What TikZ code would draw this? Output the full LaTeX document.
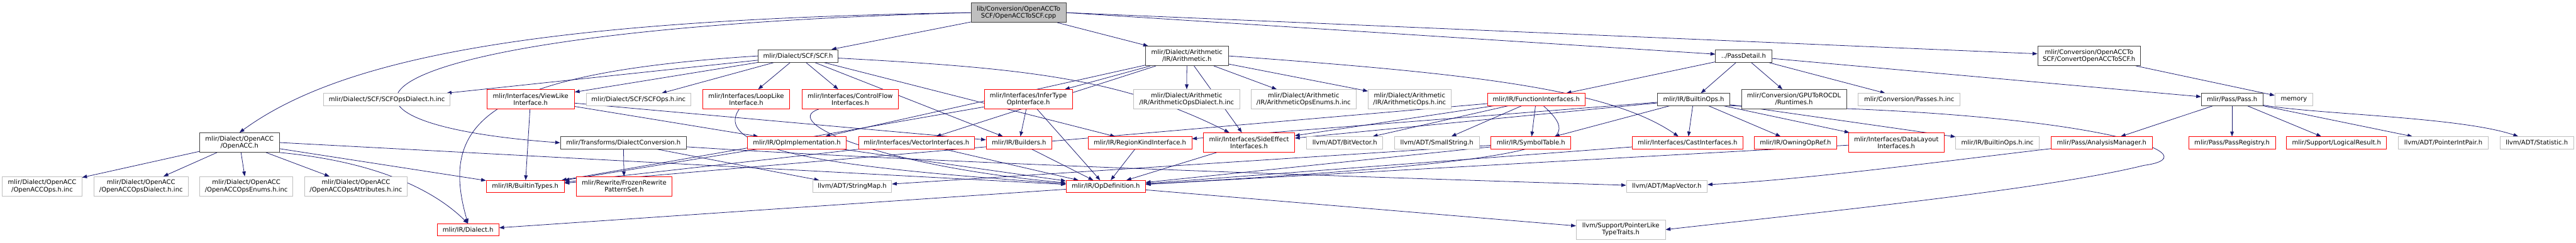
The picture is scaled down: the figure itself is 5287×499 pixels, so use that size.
\documentclass[tikz,border=0pt]{standalone}
\usepackage{fontspec}
\setmainfont{DejaVu Sans}
\usetikzlibrary{arrows.meta}
\pgfdeclarelayer{edgelayer}
\pgfsetlayers{edgelayer,main}
\definecolor{mblue}{HTML}{191970}
\definecolor{gborder}{HTML}{BFBFBF}
\definecolor{dborder}{HTML}{404040}
\definecolor{rborder}{HTML}{FF0000}
\definecolor{rootfill}{HTML}{BFBFBF}
\newcommand\dxfont{\fontsize{9.7}{10.7}\selectfont}
\tikzset{
  basebox/.style={draw, line width=0.75pt, inner sep=0pt, align=center, font=\dxfont, fill=white},
  gbox/.style={basebox, draw=gborder},
  rbox/.style={basebox, draw=rborder},
  dbox/.style={basebox, draw=dborder},
  rootbox/.style={basebox, draw=dborder, fill=rootfill},
  sz/.style 2 args={minimum width=#1*0.75pt, minimum height=#2*0.75pt},
  dep/.style={draw=mblue, line width=0.75pt, -{Triangle[length=7.5pt,width=5.5pt]}},
}
\begin{document}
\begin{tikzpicture}[x=0.75pt, y=-0.75pt]
\useasboundingbox (0,0) rectangle (5287,499);
% nodes
\node[rootbox, sz={195}{40}] (R) at (2090.5,26) {lib/Conversion/OpenACCTo\\SCF/OpenACCToSCF.cpp};
\node[dbox, sz={163}{40}] (OA) at (491.5,293) {mlir/Dialect/OpenACC\\/OpenACC.h};
\node[gbox, sz={163}{40}] (OpsInc) at (86.5,383) {mlir/Dialect/OpenACC\\/OpenACCOps.h.inc};
\node[gbox, sz={193}{40}] (OpsDialectInc) at (289.5,383) {mlir/Dialect/OpenACC\\/OpenACCOpsDialect.h.inc};
\node[gbox, sz={191}{40}] (OpsEnumsInc) at (505.5,383) {mlir/Dialect/OpenACC\\/OpenACCOpsEnums.h.inc};
\node[gbox, sz={211}{40}] (OpsAttrInc) at (730.5,383) {mlir/Dialect/OpenACC\\/OpenACCOpsAttributes.h.inc};
\node[gbox, sz={260}{25}] (SCFDialectInc) at (794,204.5) {mlir/Dialect/SCF/SCFOpsDialect.h.inc};
\node[rbox, sz={180}{40}] (ViewLike) at (1089,204) {mlir/Interfaces/ViewLike\\Interface.h};
\node[gbox, sz={215}{25}] (SCFOpsInc) at (1310.5,204.5) {mlir/Dialect/SCF/SCFOps.h.inc};
\node[dbox, sz={259}{25}] (DC) at (1279.5,293.5) {mlir/Transforms/DialectConversion.h};
\node[rbox, sz={160}{25}] (BTypes) at (1078,383.5) {mlir/IR/BuiltinTypes.h};
\node[rbox, sz={196}{40}] (Frozen) at (1281,383) {mlir/Rewrite/FrozenRewrite\\PatternSet.h};
\node[rbox, sz={127}{25}] (Dialect) at (960.5,472.5) {mlir/IR/Dialect.h};
\node[dbox, sz={164}{26}] (SCF) at (1638,115) {mlir/Dialect/SCF/SCF.h};
\node[rbox, sz={179}{40}] (LoopLike) at (1531.5,204) {mlir/Interfaces/LoopLike\\Interface.h};
\node[rbox, sz={198}{40}] (CFlow) at (1745,204) {mlir/Interfaces/ControlFlow\\Interfaces.h};
\node[rbox, sz={203}{25}] (OpImpl) at (1635.5,293.5) {mlir/IR/OpImplementation.h};
\node[gbox, sz={162}{25}] (StringMap) at (1749,383.5) {llvm/ADT/StringMap.h};
\node[rbox, sz={181}{40}] (InferType) at (2110.5,204) {mlir/Interfaces/InferType\\OpInterface.h};
\node[rbox, sz={238}{25}] (Vector) at (1881,293.5) {mlir/Interfaces/VectorInterfaces.h};
\node[rbox, sz={135}{25}] (Builders) at (2091.5,293.5) {mlir/IR/Builders.h};
\node[rbox, sz={163}{25}] (OpDef) at (2269.5,383.5) {mlir/IR/OpDefinition.h};
\node[dbox, sz={170}{40}] (AR) at (2436,115) {mlir/Dialect/Arithmetic\\/IR/Arithmetic.h};
\node[gbox, sz={217}{40}] (ArDialectInc) at (2435.5,204) {mlir/Dialect/Arithmetic\\/IR/ArithmeticOpsDialect.h.inc};
\node[gbox, sz={215}{40}] (ArEnumsInc) at (2675.5,204) {mlir/Dialect/Arithmetic\\/IR/ArithmeticOpsEnums.h.inc};
\node[rbox, sz={213}{25}] (RegionKind) at (2339.5,293.5) {mlir/IR/RegionKindInterface.h};
\node[rbox, sz={187}{40}] (SideEffect) at (2563.5,293) {mlir/Interfaces/SideEffect\\Interfaces.h};
\node[gbox, sz={170}{40}] (ArOpsInc) at (2893,204) {mlir/Dialect/Arithmetic\\/IR/ArithmeticOps.h.inc};
\node[gbox, sz={156}{25}] (BitVector) at (2760,293.5) {llvm/ADT/BitVector.h};
\node[gbox, sz={174}{25}] (SmallString) at (2949,293.5) {llvm/ADT/SmallString.h};
\node[rbox, sz={200}{25}] (FuncIf) at (3153,204.5) {mlir/IR/FunctionInterfaces.h};
\node[rbox, sz={164}{25}] (SymTab) at (3142,293.5) {mlir/IR/SymbolTable.h};
\node[dbox, sz={115}{26}] (PD) at (3578.5,115) {../PassDetail.h};
\node[dbox, sz={148}{25}] (BOps) at (3476,204.5) {mlir/IR/BuiltinOps.h};
\node[rbox, sz={227}{25}] (Cast) at (3463.5,293.5) {mlir/Interfaces/CastInterfaces.h};
\node[gbox, sz={166}{25}] (MapVector) at (3421,383.5) {llvm/ADT/MapVector.h};
\node[gbox, sz={183}{40}] (PtrLike) at (3326.5,472) {llvm/Support/PointerLike\\TypeTraits.h};
\node[dbox, sz={216}{40}] (Runtimes) at (3682,204) {mlir/Conversion/GPUToROCDL\\/Runtimes.h};
\node[gbox, sz={209}{25}] (PassesInc) at (3918.5,204.5) {mlir/Conversion/Passes.h.inc};
\node[rbox, sz={168}{25}] (Owning) at (3685,293.5) {mlir/IR/OwningOpRef.h};
\node[rbox, sz={196}{40}] (DataLayout) at (3892,293) {mlir/Interfaces/DataLayout\\Interfaces.h};
\node[dbox, sz={211}{40}] (CV) at (4287.5,115) {mlir/Conversion/OpenACCTo\\SCF/ConvertOpenACCToSCF.h};
\node[gbox, sz={171}{25}] (BOpsInc) at (4099.5,293.5) {mlir/IR/BuiltinOps.h.inc};
\node[rbox, sz={207}{25}] (Analysis) at (4313.5,293.5) {mlir/Pass/AnalysisManager.h};
\node[dbox, sz={126}{25}] (Pass) at (4581,204.5) {mlir/Pass/Pass.h};
\node[gbox, sz={78}{25}] (memory) at (4708,204.5) {memory};
\node[rbox, sz={178}{25}] (PassReg) at (4581,293.5) {mlir/Pass/PassRegistry.h};
\node[rbox, sz={205}{25}] (LogRes) at (4795.5,293.5) {mlir/Support/LogicalResult.h};
\node[gbox, sz={185}{25}] (PtrInt) at (5014.5,293.5) {llvm/ADT/PointerIntPair.h};
\node[gbox, sz={151}{25}] (Statistic) at (5206.5,293.5) {llvm/ADT/Statistic.h};
% edges
\begin{pgfonlayer}{edgelayer}
\draw[dep] (R.west) .. controls (1100,40) and (700,120) .. (OA.north);
\draw[dep] (R) -- (SCF);
\draw[dep] (R) -- (AR);
\draw[dep] (R.east) -- (PD);
\draw[dep] (R.east) -- (CV);
\draw[dep] (R.west) .. controls (700,60) and (560,250) .. (DC.west);
\draw[dep] (OA) -- (OpsInc);
\draw[dep] (OA) -- (OpsDialectInc);
\draw[dep] (OA) -- (OpsEnumsInc);
\draw[dep] (OA) -- (OpsAttrInc);
\draw[dep] (OA) -- (BTypes);
\draw[dep] (OA.south east) .. controls (750,330) and (880,380) .. (Dialect.north);
\draw[dep] (OA.east) -- (OpDef);
\draw[dep] (SCF) -- (SCFDialectInc);
\draw[dep] (SCF) -- (SCFOpsInc);
\draw[dep] (SCF) -- (ViewLike);
\draw[dep] (SCF) -- (LoopLike);
\draw[dep] (SCF) -- (CFlow);
\draw[dep] (SCF) -- (Builders);
\draw[dep] (SCF) -- (RegionKind);
\draw[dep] (SCF) .. controls (2100,140) and (2300,160) .. (SideEffect);
\draw[dep] (SCF.west) .. controls (1000,150) and (900,250) .. (Dialect.north);
\draw[dep] (AR) -- (ArDialectInc);
\draw[dep] (AR) -- (ArEnumsInc);
\draw[dep] (AR) -- (ArOpsInc);
\draw[dep] (AR.east) .. controls (3000,150) and (3300,180) .. (Cast);
\draw[dep] (AR) -- (InferType);
\draw[dep] (AR) -- (Vector);
\draw[dep] (AR) -- (OpImpl);
\draw[dep] (AR) -- (SideEffect);
\draw[dep] (ViewLike) -- (BTypes);
\draw[dep] (ViewLike) -- (OpImpl);
\draw[dep] (ViewLike) -- (Builders);
\draw[dep] (LoopLike) .. controls (1450,320) and (1800,350) .. (OpDef);
\draw[dep] (CFlow) .. controls (1600,250) and (1800,340) .. (OpDef);
\draw[dep] (InferType) -- (Builders);
\draw[dep] (InferType) -- (BTypes);
\draw[dep] (InferType) -- (OpDef);
\draw[dep] (Vector) -- (OpDef);
\draw[dep] (Vector) -- (BTypes);
\draw[dep] (Builders) -- (OpDef);
\draw[dep] (OpImpl) -- (OpDef);
\draw[dep] (OpImpl) -- (BTypes);
\draw[dep] (RegionKind) -- (OpDef);
\draw[dep] (SideEffect) -- (OpDef);
\draw[dep] (Cast) -- (OpDef);
\draw[dep] (DataLayout) -- (OpDef);
\draw[dep] (SymTab) -- (OpDef);
\draw[dep] (SymTab) -- (StringMap);
\draw[dep] (FuncIf) -- (BitVector);
\draw[dep] (FuncIf) -- (SmallString);
\draw[dep] (FuncIf) -- (SymTab);
\draw[dep] (FuncIf) -- (BTypes);
\draw[dep] (FuncIf) -- (SideEffect);
\draw[dep] (FuncIf) .. controls (3260,300) and (3200,330) .. (OpDef);
\draw[dep] (OpDef) -- (Dialect);
\draw[dep] (OpDef) -- (PtrLike);
\draw[dep] (BOps) -- (Owning);
\draw[dep] (BOps) -- (RegionKind);
\draw[dep] (BOps) -- (SymTab);
\draw[dep] (BOps) -- (Cast);
\draw[dep] (BOps) -- (DataLayout);
\draw[dep] (BOps) -- (SideEffect);
\draw[dep] (BOps) -- (BOpsInc);
\draw[dep] (BOps.south east) .. controls (4300,225) and (4550,320) .. (4400,340) .. controls (4200,390) and (3700,440) .. (PtrLike.east);
\draw[dep] (PD) -- (FuncIf);
\draw[dep] (PD) -- (BOps);
\draw[dep] (PD) -- (Pass);
\draw[dep] (PD) -- (Runtimes);
\draw[dep] (PD) -- (PassesInc);
\draw[dep] (CV) -- (memory);
\draw[dep] (Pass) -- (Analysis);
\draw[dep] (Pass) -- (PassReg);
\draw[dep] (Pass) -- (LogRes);
\draw[dep] (Pass) -- (PtrInt);
\draw[dep] (Pass) .. controls (4750,235) and (5050,240) .. (Statistic);
\draw[dep] (Analysis) .. controls (4000,330) and (3700,370) .. (MapVector);
\draw[dep] (DC) -- (Frozen);
\draw[dep] (DC) -- (StringMap);
\draw[dep] (DC) .. controls (2000,340) and (3000,370) .. (MapVector);
\end{pgfonlayer}
\end{tikzpicture}
\end{document}
